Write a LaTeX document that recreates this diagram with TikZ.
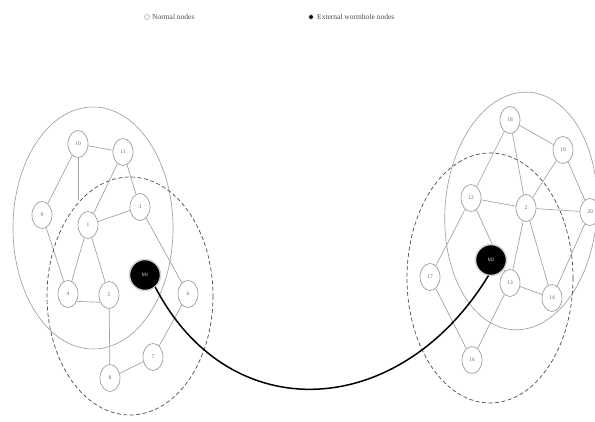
\documentclass[tikz,border=0pt]{standalone}
\usepackage{fontspec}
\setmainfont{Liberation Serif}
\usetikzlibrary{shapes.geometric,backgrounds}
\begin{document}
\begin{tikzpicture}[x=1pt,y=-1pt,
  nd/.style={ellipse,draw=gray!80,fill=white,line width=0.65pt,minimum width=20pt,minimum height=27pt,inner sep=0pt,font=\fontsize{5.5}{5.5}\selectfont,text=gray!80!black},
  wh/.style={circle,fill=black,draw=gray!35,line width=1.5pt,minimum size=31pt,inner sep=0pt,font=\fontsize{5}{5}\selectfont,text=gray!30},
  ed/.style={draw=gray!75,line width=0.65pt},
  reg/.style={draw=gray!75,line width=0.65pt},
  dreg/.style={draw=gray!60!black,line width=0.7pt,dash pattern=on 4pt off 2.5pt},
  lg/.style={font=\fontsize{7.5}{8}\selectfont,text=gray!60!black,inner sep=0pt,anchor=west}]
\useasboundingbox (0,0) rectangle (595,422);
% legend
\node[circle,draw=gray!70,line width=0.5pt,minimum size=5pt,inner sep=0pt] (lc1) at (147,17) {};
\node[lg] (lt1) at (152,17) {Normal nodes};
\node[circle,fill=black,draw=gray!40,line width=0.4pt,minimum size=4.5pt,inner sep=0pt] (lc2) at (311,17) {};
\node[lg] (lt2) at (317,17) {External wormhole nodes};
% regions
\draw[reg] (93,228) ellipse [x radius=80,y radius=121];
\draw[dreg] (130,296) ellipse [x radius=83,y radius=119];
\draw[reg,rotate around={-4:(521,211)}] (521,211) ellipse [x radius=76,y radius=119];
\draw[dreg] (490,278) ellipse [x radius=83,y radius=125];
% left nodes
\node[nd] (n10) at (78,144) {10};
\node[nd] (n11) at (123,152) {11};
\node[nd] (n9) at (42,215) {9};
\node[nd] (n1) at (88,225) {1};
\node[nd] (n3) at (140,207) {3};
\node[nd] (n4) at (68,294) {4};
\node[nd] (n5) at (109,295) {5};
\node[nd] (n6) at (188,294) {6};
\node[nd] (n7) at (153,357) {7};
\node[nd] (n8) at (110,378) {8};
\node[wh] (M1) at (145,275) {M1};
\coordinate (e10) at (78,200);
% right nodes
\node[nd] (n18) at (510,120) {18};
\node[nd] (n19) at (563,150) {19};
\node[nd] (n12) at (471,198) {12};
\node[nd] (n2) at (526,208) {2};
\node[nd] (n20) at (590,212) {20};
\node[nd] (n17) at (430,277) {17};
\node[nd] (n13) at (510,283) {13};
\node[nd] (n14) at (552,298) {14};
\node[nd] (n16) at (472,360) {16};
\node[wh] (M2) at (491,260) {M2};
\begin{pgfonlayer}{background}
\draw[ed] (n10) -- (n11);
\draw[ed] (n10) -- (n9);
\draw[ed] (n10) -- (e10);
\draw[ed] (n11) -- (n1);
\draw[ed] (n11) -- (n3);
\draw[ed] (n1) -- (n3);
\draw[ed] (n1) -- (n4);
\draw[ed] (n1) -- (n5);
\draw[ed] (n4.-40) -- (n5.-140);
\draw[ed] (n9) -- (n4);
\draw[ed] (n3) -- (n6);
\draw[ed] (n5) -- (n8);
\draw[ed] (n8) -- (n7);
\draw[ed] (n7) -- (n6);
\draw[ed] (n18) -- (n19);
\draw[ed] (n18) -- (n12);
\draw[ed] (n18) -- (n2);
\draw[ed] (n19) -- (n2);
\draw[ed] (n19) -- (n20);
\draw[ed] (n12) -- (n2);
\draw[ed] (n2) -- (n20);
\draw[ed] (n12) -- (n17);
\draw[ed] (n12) -- (n13);
\draw[ed] (n2) -- (n13);
\draw[ed] (n2) -- (n14);
\draw[ed] (n13) -- (n14);
\draw[ed] (n20) -- (n14);
\draw[ed] (n17) -- (n16);
\draw[ed] (n13) -- (n16);
\end{pgfonlayer}
% wormhole link
\draw[line width=1.5pt,line cap=round] (M1.-50) .. controls (230,430) and (400,420) .. (M2.-100);
\end{tikzpicture}
\end{document}
